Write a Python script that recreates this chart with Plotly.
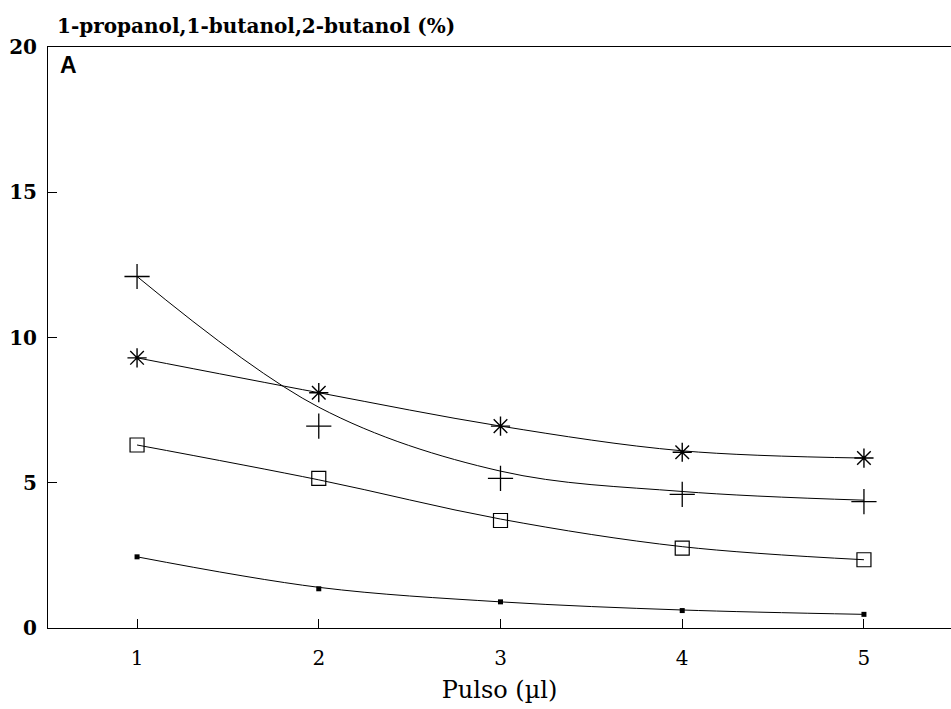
import plotly.graph_objects as go

# Pulse volume (µl)
pulse = [1, 2, 3, 4, 5]

# Measured percentages for each alcohol series
asterisk_pts = [9.3, 8.1, 6.95, 6.05, 5.85]
cross_pts = [12.1, 6.95, 5.15, 4.6, 4.35]
square_pts = [6.3, 5.15, 3.7, 2.75, 2.35]
dot_pts = [2.45, 1.35, 0.9, 0.6, 0.47]

# Smoothed trend curves drawn through each series
asterisk_fit = [9.3, 8.1, 6.95, 6.1, 5.85]
cross_fit = [12.1, 7.6, 5.4, 4.7, 4.4]
square_fit = [6.3, 5.1, 3.75, 2.8, 2.35]
dot_fit = [2.45, 1.4, 0.9, 0.62, 0.47]

y_ticks = [0, 5, 10, 15, 20]
x_ticks = [1, 2, 3, 4, 5]

fig = go.Figure()

line_style = dict(color="black", width=1, shape="spline", smoothing=1.0)

for fit in (asterisk_fit, cross_fit, square_fit, dot_fit):
    fig.add_trace(go.Scatter(x=pulse, y=fit, mode="lines", line=line_style,
                             hoverinfo="skip", showlegend=False))

markers = [
    (asterisk_pts, dict(symbol="asterisk-open", size=16, color="black",
                        line=dict(color="black", width=1.4))),
    (cross_pts, dict(symbol="cross-thin-open", size=18, color="black",
                     line=dict(color="black", width=1.3))),
    (square_pts, dict(symbol="square-open", size=14, color="black",
                      line=dict(color="black", width=1.2))),
    (dot_pts, dict(symbol="square", size=5, color="black",
                   line=dict(color="black", width=0))),
]
for vals, mk in markers:
    fig.add_trace(go.Scatter(x=pulse, y=vals, mode="markers", marker=mk,
                             showlegend=False))

serif = "DejaVu Serif"

fig.update_layout(
    width=951, height=709,
    margin=dict(l=48, r=0, t=47, b=81),
    paper_bgcolor="white", plot_bgcolor="white",
    xaxis=dict(
        range=[0.51, 5.479], tickvals=x_ticks, ticktext=[str(t) for t in x_ticks],
        ticks="inside", ticklen=9, tickwidth=1, tickcolor="black",
        showline=True, linecolor="black", linewidth=1, mirror=True,
        showgrid=False, zeroline=False, ticklabelstandoff=12,
        tickfont=dict(family=serif, size=20, color="black"),
        title=dict(text="Pulso (µl)", font=dict(family=serif, size=24, color="black"),
                   standoff=12),
    ),
    yaxis=dict(
        range=[0, 20], tickvals=y_ticks, ticktext=[str(t) for t in y_ticks],
        ticks="inside", ticklen=9, tickwidth=1, tickcolor="black",
        showline=True, linecolor="black", linewidth=1, mirror=False,
        showgrid=False, zeroline=False, ticklabelstandoff=6,
        tickfont=dict(family=serif, size=20, color="black", weight="bold"),
    ),
    annotations=[
        dict(text="1-propanol,1-butanol,2-butanol (%)", xref="paper", yref="paper",
             x=0.008, y=1, xanchor="left", yanchor="bottom", yshift=7, showarrow=False,
             font=dict(family=serif, size=20, color="black", weight="bold")),
        dict(text="A", xref="paper", yref="paper", x=0.011, y=0.995,
             xanchor="left", yanchor="top", showarrow=False,
             font=dict(family="Liberation Sans", size=23, color="black", weight="bold")),
    ],
)

fig.write_html("out.html")
